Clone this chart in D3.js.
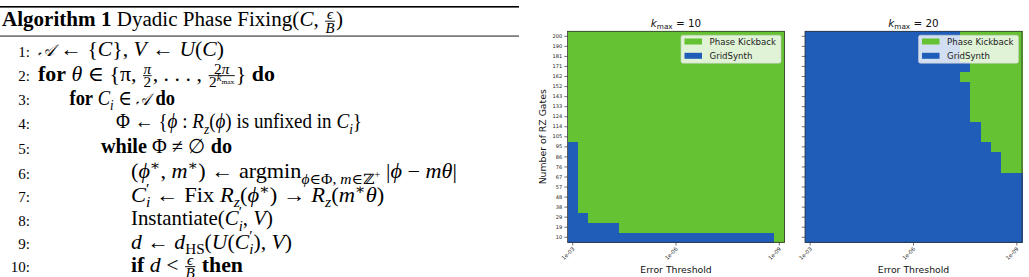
<!DOCTYPE html>
<html><head><meta charset="utf-8">
<script src="https://cdn.jsdelivr.net/npm/d3@7"></script>
<style>body{margin:0;background:#fff}svg{display:block}</style>
</head><body>
<svg id="c" width="1029" height="277"></svg>
<script>
// ---------- data ----------
const gates = [10,19,29,38,48,57,67,76,86,95,105,114,124,133,143,152,162,171,181,190,200];
const thresholds = [1e-3,5.01e-4,2.51e-4,1.26e-4,6.31e-5,3.16e-5,1.58e-5,7.94e-6,3.98e-6,2.00e-6,
                    1e-6,5.01e-7,2.51e-7,1.26e-7,6.31e-8,3.16e-8,1.58e-8,7.94e-9,3.98e-9,2.00e-9,1e-9];
const xTickValues = [1e-3, 1e-6, 1e-9];
const seriesNames = ["Phase Kickback", "GridSynth"];
const kmaxValues = ["10", "20"];
// winner per cell: "1" = Phase Kickback, "0" = GridSynth; rows follow gates (ascending), columns follow thresholds
const winnerKmax10 = [
  "000000000000000000001", // 10
  "000001111111111111111", // 19
  "001111111111111111111", // 29
  "011111111111111111111", // 38
  "011111111111111111111", // 48
  "011111111111111111111", // 57
  "011111111111111111111", // 67
  "011111111111111111111", // 76
  "011111111111111111111", // 86
  "011111111111111111111", // 95
  "111111111111111111111", // 105
  "111111111111111111111", // 114
  "111111111111111111111", // 124
  "111111111111111111111", // 133
  "111111111111111111111", // 143
  "111111111111111111111", // 152
  "111111111111111111111", // 162
  "111111111111111111111", // 171
  "111111111111111111111", // 181
  "111111111111111111111", // 190
  "111111111111111111111"  // 200
];
const winnerKmax20 = [
  "000000000000000000000", // 10
  "000000000000000000000", // 19
  "000000000000000000000", // 29
  "000000000000000000000", // 38
  "000000000000000000000", // 48
  "000000000000000000000", // 57
  "000000000000000000000", // 67
  "000000000000000000011", // 76
  "000000000000000000011", // 86
  "000000000000000000111", // 95
  "000000000000000001111", // 105
  "000000000000000001111", // 114
  "000000000000000011111", // 124
  "000000000000000011111", // 133
  "000000000000000011111", // 143
  "000000000000000011111", // 152
  "000000000000000111111", // 162
  "000000000000000011111", // 171
  "000000000000000111111", // 181
  "000000000000000111111", // 190
  "000000000000000111111"  // 200
];

// ---------- chart ----------
const svg = d3.select("#c");
const GREEN = "#65c232", BLUE = "#1f5db8";
const colors = d3.scaleOrdinal().domain(["1","0"]).range([GREEN, BLUE]);
const panelTop = 31.3, panelH = 211, panelW = 217;
const panels = [
  {kmax: kmaxValues[0], data: winnerKmax10, x0: 567.5, yLabels: true},
  {kmax: kmaxValues[1], data: winnerKmax20, x0: 805, yLabels: false}
];
const tickFmt = v => { const s = v.toExponential(0); return s.replace(/e-(\d)$/, "e-0$1"); };

panels.forEach(p => {
  const g = svg.append("g");
  const x = d3.scaleBand().domain(thresholds).range([p.x0, p.x0 + panelW]).padding(0);
  const y = d3.scaleBand().domain(gates.slice().reverse()).range([panelTop, panelTop + panelH]).padding(0);
  const cells = [];
  p.data.forEach((row, ri) => row.split("").forEach((v, ci) => cells.push({g: gates[ri], t: thresholds[ci], v})));
  g.selectAll("rect.cell").data(cells).join("rect").attr("class","cell")
    .attr("x", d => x(d.t)).attr("y", d => y(d.g))
    .attr("width", x.bandwidth() + 0.6).attr("height", y.bandwidth() + 0.6)
    .attr("shape-rendering","crispEdges")
    .attr("fill", d => colors(d.v));
  // frame
  g.append("rect").attr("x", p.x0).attr("y", panelTop).attr("width", panelW).attr("height", panelH)
    .attr("fill","none").attr("stroke","#333").attr("stroke-width",0.8);
  // y axis
  const ya = g.append("g").attr("transform", `translate(${p.x0},0)`)
    .call(d3.axisLeft(y).tickSize(3.2).tickPadding(2).tickFormat(p.yLabels ? d => d : () => ""));
  ya.select(".domain").remove();
  ya.selectAll("line").attr("stroke","#333").attr("stroke-width",0.7);
  ya.selectAll("text").attr("font-family","DejaVu Sans").attr("font-size",5.1).attr("fill","#222");
  // x axis
  const xa = g.append("g").attr("transform", `translate(0,${panelTop + panelH})`)
    .call(d3.axisBottom(x).tickValues(xTickValues).tickSize(3.2).tickFormat(tickFmt));
  xa.select(".domain").remove();
  xa.selectAll("line").attr("stroke","#333").attr("stroke-width",0.7);
  xa.selectAll("text").attr("font-family","DejaVu Sans").attr("font-size",5.4).attr("fill","#222")
    .attr("text-anchor","end").attr("y",0).attr("dy",0)
    .attr("transform","translate(2.2,7) rotate(-45)");
  // title
  const cx = p.x0 + panelW / 2;
  const t = g.append("text").attr("x", cx).attr("y", 26.5).attr("text-anchor","middle")
    .attr("font-family","DejaVu Sans").attr("font-size",10.4).attr("fill","#111");
  t.append("tspan").attr("font-style","italic").text("k");
  t.append("tspan").attr("font-size",7.3).attr("dy",2.4).text("max");
  t.append("tspan").attr("dy",-2.4).text("\u00A0=\u00A0" + p.kmax);
  // x label
  g.append("text").attr("x", cx).attr("y", 272.5).attr("text-anchor","middle")
    .attr("font-family","DejaVu Sans").attr("font-size",9.3).attr("fill","#111").text("Error Threshold");
  if (p.yLabels) {
    g.append("text").attr("transform", `translate(545.5,${panelTop + panelH/2}) rotate(-90)`)
      .attr("text-anchor","middle").attr("font-family","DejaVu Sans").attr("font-size",9.3)
      .attr("fill","#111").text("Number of RZ Gates");
  }
  // legend
  const lx = p.x0 + panelW - 103.5, ly = 35.2;
  const lg = g.append("g");
  lg.append("rect").attr("x", lx).attr("y", ly).attr("width", 100).attr("height", 28).attr("rx", 2)
    .attr("fill","#fff").attr("fill-opacity",0.8).attr("stroke","#ccc").attr("stroke-opacity",0.8).attr("stroke-width",0.7);
  seriesNames.forEach((name, i) => {
    lg.append("rect").attr("x", lx + 3.5).attr("y", ly + 3.3 + i * 14.3).attr("width", 17.5).attr("height", 6)
      .attr("fill", i === 0 ? GREEN : BLUE);
    lg.append("text").attr("x", lx + 28.5).attr("y", ly + 9.6 + i * 14.3)
      .attr("font-family","DejaVu Sans").attr("font-size",8.6).attr("fill","#222").text(name);
  });
});

// ---------- algorithm box ----------
const FS = 20.5;
const alg = svg.append("g").attr("font-family","'Liberation Serif','DejaVu Serif',serif").attr("fill","#000");
alg.append("rect").attr("x",0).attr("y",6).attr("width",519).attr("height",1.6);
alg.append("rect").attr("x",0).attr("y",35.6).attr("width",519).attr("height",0.9);

function run(g, toks, x, y, fs) {
  for (const t of toks) {
    const k = t[0];
    if (k === "r" || k === "i" || k === "b" || k === "cal") {
      const el = g.append("text").attr("x", x).attr("y", y).attr("font-size", k === "cal" ? fs * 0.8 : fs)
        .text(t[1].replace(/ /g, "\u00A0"));
      if (k === "i") el.attr("font-style","italic");
      if (k === "b") el.attr("font-weight","bold");
      if (k === "cal") el.attr("font-style","italic").attr("font-family","'DejaVu Serif',serif");
      x += el.node().getComputedTextLength();
    } else if (k === "sub") {
      x = run(g, t[1], x, y + fs * 0.25, fs * 0.7);
    } else if (k === "sup") {
      x = run(g, t[1], x, y - fs * 0.4, fs * 0.7);
    } else if (k === "ss") {
      const a = run(g, t[1], x, y - fs * 0.4, fs * 0.7);
      const b = run(g, t[2], x, y + fs * 0.25, fs * 0.7);
      x = Math.max(a, b);
    } else if (k === "frac") {
      const s = fs * 0.7;
      const gn = g.append("g"), gd = g.append("g");
      const wn = run(gn, t[1], 0, 0, s), wd = run(gd, t[2], 0, 0, s);
      const w = Math.max(wn, wd) + fs * 0.14;
      const axis = y - fs * 0.26;
      gn.attr("transform", `translate(${x + (w - wn) / 2},${axis - fs * 0.1})`);
      gd.attr("transform", `translate(${x + (w - wd) / 2},${axis + fs * 0.08 + s * 0.68})`);
      g.append("rect").attr("x", x + fs * 0.05).attr("y", axis - 0.45).attr("width", w - fs * 0.1).attr("height", 0.9);
      x += w;
    } else if (k === "sp") {
      x += t[1] * fs;
    }
  }
  return x;
}

const Cp = [["i","C"],["ss",[["r","′"]],[["i","i"]]]];
const title = [["b","Algorithm 1"],["r"," Dyadic Phase Fixing("],["i","C"],["r",", "],["frac",[["i","ϵ"]],[["i","B"]]],["r",")"]];
const lines = [
  [0, [["cal","𝒜"],["r"," ← {"],["i","C"],["r","}, "],["i","V"],["r"," ← "],["i","U"],["r","("],["i","C"],["r",")"]]],
  [0, [["b","for "],["i","θ"],["r"," ∈ {π, "],["frac",[["i","π"]],[["r","2"]]],["r",", . . . , "],
       ["frac",[["r","2"],["i","π"]],[["r","2"],["sup",[["i","k"],["sub",[["r","max"]]]]]]],["r","} "],["b","do"]]],
  [1, [["b","for "],["i","C"],["sub",[["i","i"]]],["r"," ∈ "],["cal","𝒜"],["b"," do"]]],
  [2, [["r","Φ ← {"],["i","ϕ"],["r"," : "],["i","R"],["sub",[["i","z"]]],["r","("],["i","ϕ"],["r",") is unfixed in "],["i","C"],["sub",[["i","i"]]],["r","}"]]],
  [2, [["b","while "],["r","Φ ≠ ∅ "],["b","do"]]],
  [3, [["r","("],["i","ϕ"],["sup",[["r","∗"]]],["r",", "],["i","m"],["sup",[["r","∗"]]],["r",") ← argmin"],
       ["sub",[["i","ϕ"],["r","∈Φ, "],["i","m"],["r","∈ℤ"],["sup",[["r","+"]]]]],["r"," |"],["i","ϕ"],["r"," − "],["i","mθ"],["r","|"]]],
  [3, [...Cp,["r"," ← Fix "],["i","R"],["sub",[["i","z"]]],["r","("],["i","ϕ"],["sup",[["r","∗"]]],["r",") → "],
       ["i","R"],["sub",[["i","z"]]],["r","("],["i","m"],["sup",[["r","∗"]]],["i","θ"],["r",")"]]],
  [3, [["r","Instantiate("],...Cp,["r",", "],["i","V"],["r",")"]]],
  [3, [["i","d"],["r"," ← "],["i","d"],["sub",[["r","HS"]]],["r","("],["i","U"],["r","("],...Cp,["r","), "],["i","V"],["r",")"]]],
  [3, [["b","if "],["i","d"],["r"," < "],["frac",[["i","ϵ"]],[["i","B"]]],["b"," then"]]]
];

// layout of the algorithm lines (start x, baseline, right end in the reference)
const startX = [38, 38, 69.5, 116, 101, 131, 131, 131, 131, 131];
const baseY = [56.5, 81, 105, 128.5, 153.5, 178.5, 202, 225.5, 249, 272];
const endX = [224, 275, 170, 362, 232, 457, 385, 273, 292, 243];

function fitLine(toks, x0, yb, xEnd) {
  const lg = alg.append("g");
  const xe = run(lg, toks, x0, yb, FS);
  const sx = Math.max(0.9, Math.min(1.1, (xEnd - x0) / (xe - x0)));
  lg.attr("transform", `translate(${x0},0) scale(${sx},1) translate(${-x0},0)`);
}
fitLine(title, 2, 26.5, 343);
lines.forEach((ln, i) => {
  alg.append("text").attr("x", 30).attr("y", baseY[i]).attr("text-anchor","end").attr("font-size", 15).text((i + 1) + ":");
  fitLine(ln[1], startX[i], baseY[i], endX[i]);
});
</script>
</body></html>
